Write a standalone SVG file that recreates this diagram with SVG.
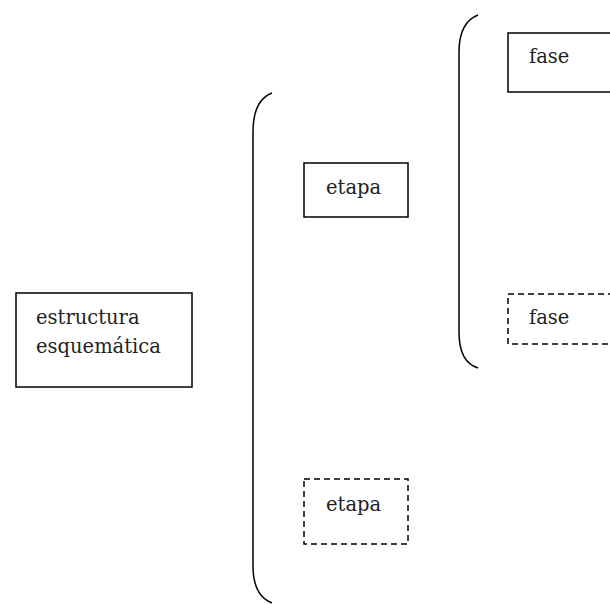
<svg xmlns="http://www.w3.org/2000/svg" width="610" height="604" viewBox="0 0 610 604">
<style>
.box{fill:#fff;stroke:#000;stroke-width:1.5}
.dash{stroke-dasharray:6 4}
.br{fill:none;stroke:#000;stroke-width:1.5}
text{font-family:"DejaVu Serif","Liberation Serif",serif;font-size:19.5px;fill:#222}
</style>
<rect width="610" height="604" fill="#fff"/>
<g id="connectors">
<path class="br" d="M272,93 C259,98 253,112 253,132 L253,566 C253,586 259,598 272,603"/>
<path class="br" d="M478,15 C465,20 459,34 459,52 L459,332 C459,352 465,364 478,368"/>
</g>
<g id="n_estructura">
<rect class="box" x="16" y="293" width="176" height="94"/>
<text x="36" y="324">estructura</text>
<text x="36" y="353">esquemática</text>
</g>
<g id="n_etapa1">
<rect class="box" x="304" y="163" width="104" height="54"/>
<text x="326" y="194">etapa</text>
</g>
<g id="n_etapa2">
<rect class="box dash" x="304" y="479" width="104" height="65"/>
<text x="326" y="511">etapa</text>
</g>
<g id="n_fase1">
<rect class="box" x="508" y="33" width="110" height="59"/>
<text x="529" y="63">fase</text>
</g>
<g id="n_fase2">
<rect class="box dash" x="508" y="294" width="110" height="50"/>
<text x="529" y="324">fase</text>
</g>
</svg>
